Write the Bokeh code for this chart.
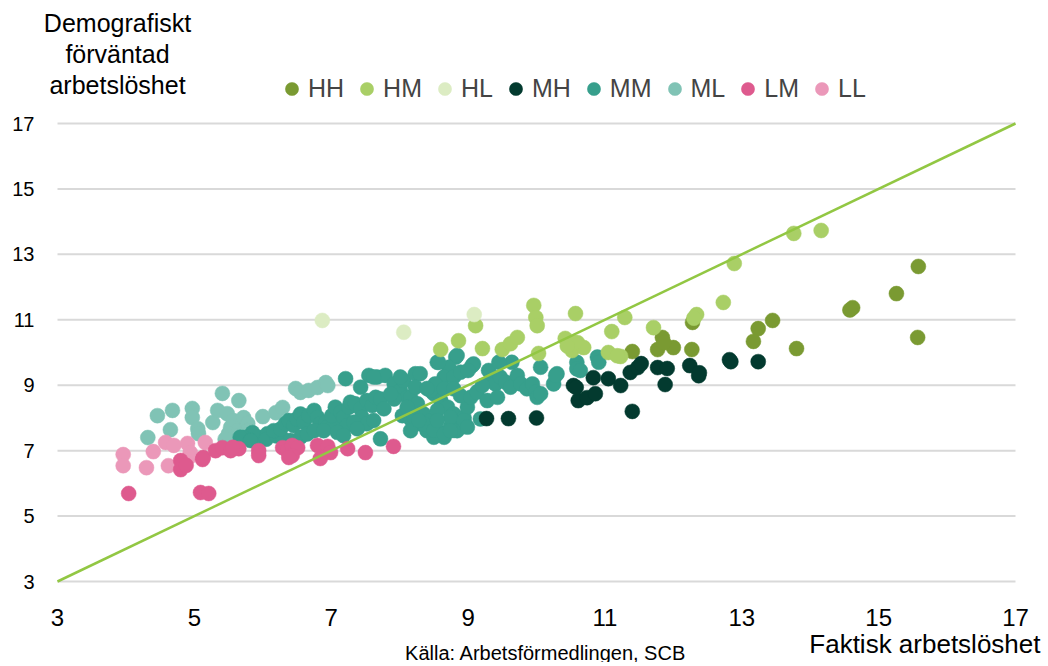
from bokeh.plotting import figure
from bokeh.models import Legend, LegendItem, Label, FixedTicker, Range1d
from bokeh.embed import file_html
from bokeh.resources import INLINE

# ---------------- data ----------------
ticks = [3, 5, 7, 9, 11, 13, 15, 17]
diag = [3, 17]

HH_x = [15.58, 15.26, 14.62, 14.58, 15.57, 13.45, 13.24, 13.17, 13.80, 12.28, 11.84, 11.77, 12.00, 11.40, 12.27, 11.86]
HH_y = [12.63, 11.80, 11.37, 11.30, 10.46, 10.98, 10.73, 10.34, 10.12, 10.92, 10.46, 10.09, 10.15, 10.03, 10.09, 10.30]

HM_x = [13.76, 14.16, 12.89, 12.73, 12.34, 11.71, 11.29, 11.23, 10.57, 11.10, 10.42, 10.60, 10.52, 10.69, 11.05,
        11.18, 9.96, 9.99, 10.01, 9.11, 8.86, 8.60, 9.21, 9.50, 9.62, 9.72, 10.03, 10.56, 10.45, 12.30]
HM_y = [13.64, 13.73, 12.72, 11.53, 11.16, 10.76, 11.07, 9.88, 11.19, 10.64, 10.43, 10.30, 10.06, 10.15, 10.00,
        9.90, 11.44, 11.07, 10.82, 10.82, 10.36, 10.09, 10.12, 10.09, 10.27, 10.46, 9.97, 10.30, 10.20, 11.05]

HL_x = [6.87, 8.06, 9.09]
HL_y = [10.98, 10.62, 11.16]

MH_x = [9.27, 9.59, 10.00, 10.54, 10.61, 10.74, 10.86, 10.58, 10.83, 11.05, 11.23, 11.37, 11.48, 11.53, 11.40,
        11.77, 11.91, 11.88, 12.24, 12.37, 12.38, 12.82, 12.84, 13.24]
MH_y = [7.98, 7.98, 8.00, 8.99, 8.53, 8.62, 8.74, 8.93, 9.23, 9.20, 8.99, 9.39, 9.54, 9.66, 8.20,
        9.54, 9.51, 9.02, 9.60, 9.29, 9.38, 9.78, 9.72, 9.72]

MM_x = [5.78, 5.86, 5.97, 6.07, 5.85, 5.72, 6.05, 6.20, 6.30, 5.67, 5.82,
        6.16, 6.26, 6.33, 6.38, 6.45, 6.50, 6.55, 6.60, 6.67, 6.75, 6.80, 6.84, 6.92, 6.94, 7.04, 7.01,
        7.06, 7.14, 7.18, 7.26, 7.28, 7.35, 7.43, 7.52, 7.60, 7.65, 7.72, 7.77, 7.45, 7.52, 7.62, 7.72,
        7.23, 7.33, 7.38, 7.21, 7.43, 7.55, 7.67, 7.79, 7.92, 8.01, 8.06, 8.11, 7.92, 8.23, 8.04, 8.16,
        8.26, 6.40, 6.55, 6.65, 6.75, 6.89, 7.09, 7.18, 7.62, 7.87, 8.01,
        8.30, 8.55, 8.82, 8.72, 8.65, 8.79, 8.89, 9.08, 9.30, 9.33, 9.40, 9.47, 9.55, 9.62, 9.64, 9.72,
        9.77, 9.86, 9.94, 9.99, 10.01, 10.06, 10.30, 10.25, 10.59, 10.59, 10.89, 10.91, 10.64, 10.06,
        8.16, 8.26, 8.35, 8.45, 8.55, 8.65, 8.50, 8.60, 8.70, 8.79, 8.89, 8.84, 8.74, 8.94, 8.99, 8.55,
        8.45, 8.52, 8.65, 8.79, 8.89, 9.04, 9.13, 9.21, 9.18, 9.28, 9.43, 8.21, 8.30, 8.40, 8.50, 8.16,
        8.57, 8.84, 9.06, 10.28, 8.35, 8.50, 8.65, 8.79, 8.94, 8.74, 8.55, 8.28, 8.74, 8.94, 8.99, 8.11,
        8.23, 9.45, 8.40, 9.00]
MM_y = [7.40, 7.31, 7.40, 7.52, 7.55, 7.40, 7.35, 7.45, 7.35, 7.41, 7.31,
        7.61, 7.66, 7.82, 7.92, 7.77, 7.97, 8.12, 7.87, 8.07, 8.23, 8.02, 7.82, 7.87, 7.72, 7.77, 8.07,
        8.33, 8.17, 8.02, 8.33, 8.48, 8.43, 8.28, 8.53, 8.38, 8.63, 8.58, 8.28, 8.02, 7.82, 7.92, 7.36,
        7.77, 7.87, 7.67, 9.20, 8.94, 9.30, 9.25, 9.30, 9.04, 8.84, 9.14, 8.63, 8.58, 9.35, 8.07, 7.97,
        7.92, 7.31, 7.41, 7.51, 7.61, 7.61, 7.56, 7.46, 9.25, 8.73, 9.25,
        9.35, 9.70, 9.86, 9.55, 9.25, 9.25, 9.40, 9.65, 9.45, 9.14, 9.04, 9.25, 9.09, 8.94, 9.70, 9.30,
        9.04, 8.89, 9.04, 8.79, 8.63, 9.55, 9.35, 9.04, 9.70, 9.50, 9.86, 9.70, 9.45, 8.74,
        8.63, 8.43, 8.12, 7.92, 7.61, 7.41, 8.74, 8.53, 8.33, 8.12, 7.82, 7.61, 7.72, 8.02, 8.33, 8.23,
        8.84, 9.04, 8.89, 8.89, 8.68, 8.63, 8.79, 8.99, 7.97, 8.53, 8.63, 8.02, 7.82, 7.61, 7.41, 7.61,
        9.70, 9.91, 9.60, 9.30, 7.82, 7.62, 7.51, 7.62, 7.82, 8.02, 7.92, 7.92, 7.61, 7.92, 7.72, 8.33,
        8.94, 9.70, 8.90, 9.45]

ML_x = [4.32, 4.46, 4.68, 4.65, 4.97, 4.97, 5.05, 5.06, 5.27, 5.34, 5.41, 5.48, 5.57, 5.53, 5.63, 5.50,
        5.72, 5.65, 5.78, 5.78, 5.60, 6.00, 6.19, 6.29, 6.48, 6.55, 6.67, 6.80, 6.92, 6.95, 5.45]
ML_y = [7.40, 8.07, 8.23, 7.64, 8.29, 8.01, 7.67, 7.52, 7.86, 8.23, 8.75, 8.13, 7.92, 7.71, 7.61, 7.52,
        8.01, 8.53, 7.83, 7.61, 7.45, 8.04, 8.16, 8.32, 8.90, 8.78, 8.84, 8.93, 9.08, 8.99, 7.35]

LM_x = [4.04, 5.09, 5.21, 4.80, 4.80, 4.88, 5.12, 5.13, 5.31, 5.41, 5.53, 5.65, 5.56, 5.94, 5.94, 6.29,
        6.36, 6.43, 6.51, 6.43, 6.38, 6.80, 6.95, 6.99, 6.84, 7.24, 7.50, 7.91]
LM_y = [5.69, 5.72, 5.69, 6.70, 6.42, 6.55, 6.73, 6.79, 7.00, 7.09, 7.00, 7.06, 7.10, 7.00, 6.85, 7.09,
        7.00, 7.16, 7.09, 6.85, 6.79, 7.16, 7.13, 6.94, 6.76, 7.06, 6.94, 7.13]

LL_x = [3.96, 3.96, 4.30, 4.40, 4.58, 4.70, 4.62, 4.90, 4.94, 4.92, 5.16]
LL_y = [6.88, 6.54, 6.48, 6.97, 7.25, 7.16, 6.54, 7.22, 6.94, 6.79, 7.25]

series = {
    "HH": (HH_x, HH_y, "#7a9a32"),
    "HM": (HM_x, HM_y, "#a9cf66"),
    "HL": (HL_x, HL_y, "#dcecc3"),
    "MH": (MH_x, MH_y, "#033a2f"),
    "MM": (MM_x, MM_y, "#379f8c"),
    "ML": (ML_x, ML_y, "#80c3b5"),
    "LM": (LM_x, LM_y, "#de5a8e"),
    "LL": (LL_x, LL_y, "#eb98b9"),
}
legend_order = ["HH", "HM", "HL", "MH", "MM", "ML", "LM", "LL"]
draw_order = ["ML", "MM", "LL", "LM", "HH", "HM", "HL", "MH"]

FONT = "Liberation Sans"

# ---------------- layout (pixel geometry of the frame) ----------------
W, H = 1044, 662
PX_L, PX_R, PX_T, PX_B = 57, 1015, 123, 581   # where 3..17 sit on the canvas
sx = (PX_R - PX_L) / (ticks[-1] - ticks[0])
sy = (PX_B - PX_T) / (ticks[-1] - ticks[0])
x_start = ticks[0] - PX_L / sx
x_end = ticks[0] + (W - PX_L) / sx
y_end = ticks[-1] + PX_T / sy
y_start = ticks[0] - (H - PX_B) / sy

def dx(px):
    return ticks[0] + (px - PX_L) / sx

def dy(py):
    return ticks[-1] - (py - PX_T) / sy

p = figure(width=W, height=H, x_range=Range1d(x_start, x_end), y_range=Range1d(y_start, y_end),
           output_backend="svg", toolbar_location=None, min_border=0)
p.title.visible = False
p.outline_line_color = None
p.background_fill_color = "white"
p.border_fill_color = "white"
p.xgrid.grid_line_color = None
p.ygrid.grid_line_color = None

# axes drawn at fixed data locations inside the full-canvas frame
p.xaxis.fixed_location = ticks[0]
p.yaxis.fixed_location = ticks[0]
for ax in (p.xaxis[0], p.yaxis[0]):
    ax.ticker = FixedTicker(ticks=ticks)
    ax.axis_line_color = None
    ax.major_tick_line_color = None
    ax.minor_tick_line_color = None
    ax.major_label_text_font = FONT
    ax.major_label_text_color = "#000000"
p.yaxis.major_label_text_font_size = "20px"
p.yaxis.major_label_standoff = 17
p.xaxis.major_label_text_font_size = "24px"
p.xaxis.major_label_standoff = 21

# horizontal grid lines spanning only the 3..17 extent
p.segment(x0=[ticks[0]] * len(ticks), x1=[ticks[-1]] * len(ticks), y0=ticks, y1=ticks,
          line_color="#d9d9d9", line_width=2)

renderers = {}
for name in draw_order:
    xs, ys, col = series[name]
    renderers[name] = p.scatter(xs, ys, size=15, fill_color=col, line_color=col, line_width=0.5)

p.line(diag, diag, line_color="#92c743", line_width=2.5)

legend = Legend(items=[LegendItem(label=n, renderers=[renderers[n]]) for n in legend_order],
                orientation="horizontal", location=(275, H - 105),
                glyph_width=33, glyph_height=33, label_standoff=0, spacing=6,
                padding=0, margin=0, border_line_color=None, background_fill_alpha=0,
                label_text_font=FONT, label_text_font_size="25px")
p.add_layout(legend)

for txt, py in (("Demografiskt", 22), ("förväntad", 53), ("arbetslöshet", 84)):
    p.add_layout(Label(x=dx(117), y=dy(py), text=txt, text_align="center", text_baseline="middle",
                       text_font=FONT, text_font_size="25px", text_color="#000000"))

p.add_layout(Label(x=dx(1040), y=dy(643), text="Faktisk arbetslöshet", text_align="right",
                   text_baseline="middle", text_font=FONT, text_font_size="26px", text_color="#000000"))
p.add_layout(Label(x=dx(548), y=dy(652), text="Källa: Arbetsförmedlingen,  SCB", text_align="center",
                   text_baseline="middle", text_font=FONT, text_font_size="20px", text_color="#000000"))

open("out.html", "w").write(file_html(p, INLINE))
